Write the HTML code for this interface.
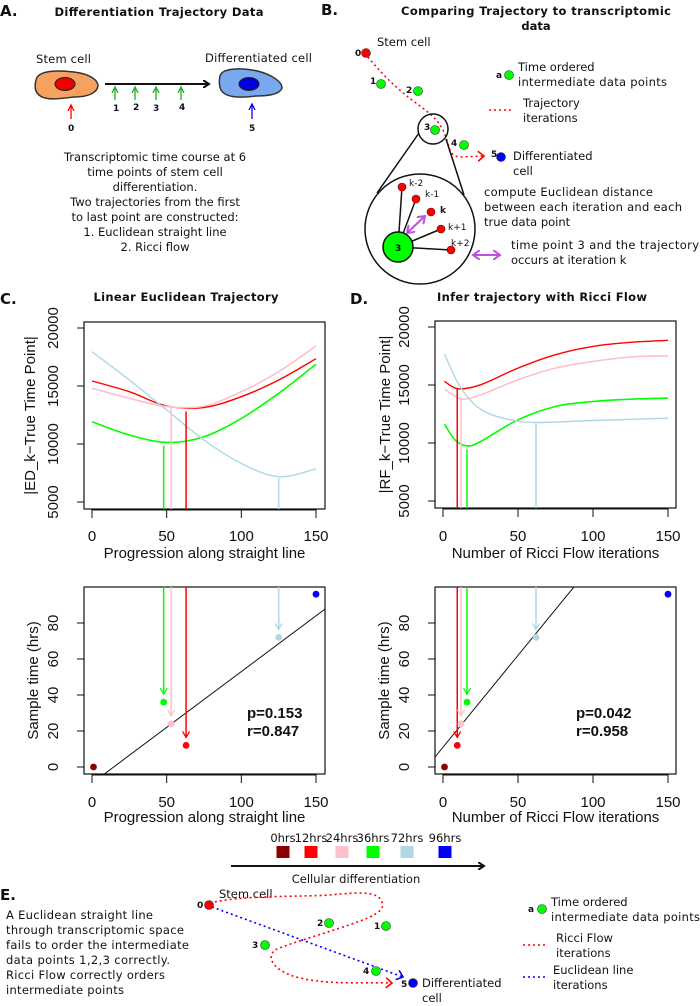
<!DOCTYPE html>
<html><head><meta charset="utf-8">
<style>
html,body{margin:0;padding:0;background:#fff;}
svg{display:block;}
.d{font-family:"DejaVu Sans","Liberation Sans",sans-serif;font-size:11.5px;fill:#111;}
.t{font-family:"DejaVu Sans","Liberation Sans",sans-serif;font-size:11.5px;font-weight:bold;fill:#111;}
.ax{font-family:"Liberation Sans",sans-serif;font-size:15px;fill:#111;}
.pn{font-family:"DejaVu Sans",sans-serif;font-size:15px;font-weight:bold;fill:#111;}
.lb{font-family:"DejaVu Sans",sans-serif;font-size:9px;font-weight:bold;fill:#111;}
</style></head>
<body>
<svg id="fig" width="700" height="1006" viewBox="0 0 700 1006" xmlns="http://www.w3.org/2000/svg">
<defs>
<marker id="ab" markerWidth="8" markerHeight="8" refX="6" refY="4" orient="auto" markerUnits="userSpaceOnUse"><path d="M0,0 L6,4 L0,8" fill="none" stroke="#111" stroke-width="2"/></marker>
<marker id="ag" markerWidth="8" markerHeight="8" refX="6" refY="4" orient="auto" markerUnits="userSpaceOnUse"><path d="M0,1 L6,4 L0,7" fill="none" stroke="#22aa22" stroke-width="1.3"/></marker>
<marker id="ar" markerWidth="8" markerHeight="8" refX="6" refY="4" orient="auto" markerUnits="userSpaceOnUse"><path d="M0,1 L6,4 L0,7" fill="none" stroke="#f00" stroke-width="1.3"/></marker>
<marker id="abl" markerWidth="8" markerHeight="8" refX="6" refY="4" orient="auto" markerUnits="userSpaceOnUse"><path d="M0,1 L6,4 L0,7" fill="none" stroke="#00f" stroke-width="1.3"/></marker>
<marker id="ar2" markerWidth="12" markerHeight="12" refX="7" refY="6" orient="auto" markerUnits="userSpaceOnUse"><path d="M1,1 L7,6 L1,11" fill="none" stroke="#f00" stroke-width="1.6"/></marker>
<marker id="ab2" markerWidth="12" markerHeight="12" refX="7" refY="6" orient="auto" markerUnits="userSpaceOnUse"><path d="M1,1 L7,6 L1,11" fill="none" stroke="#00f" stroke-width="1.6"/></marker>
<marker id="ap" markerWidth="10" markerHeight="10" refX="7" refY="5" orient="auto-start-reverse" markerUnits="userSpaceOnUse"><path d="M0,0 L7,5 L0,10" fill="none" stroke="#c050e0" stroke-width="2"/></marker>
</defs>

<!-- Panel A -->
<g>
<text class="pn" x="0" y="16">A.</text>
<text class="t" x="159" y="16" text-anchor="middle" textLength="209">Differentiation Trajectory Data</text>
<text class="d" x="36" y="63" textLength="55">Stem cell</text>
<text class="d" x="205" y="62" textLength="107">Differentiated cell</text>
<path d="M36,80 C38,70 58,70 74,72 C90,74 98,80 98,86 C97,93 88,97 74,97 C58,99 44,101 38,94 C34,90 35,84 36,80 Z" fill="#f6a160" stroke="#333" stroke-width="1.5"/>
<ellipse cx="65" cy="84" rx="10" ry="6.5" fill="#e00" stroke="#222"/>
<path d="M220,76 C222,68 240,68 252,70 C266,72 282,80 282,88 C280,94 270,96 256,96 C240,98 226,98 221,90 C219,86 219,80 220,76 Z" fill="#7aa8ee" stroke="#333" stroke-width="1.5"/>
<ellipse cx="249" cy="84" rx="10" ry="6.5" fill="#00d" stroke="#222"/>
<line x1="105" y1="84" x2="209" y2="84" stroke="#111" stroke-width="2" marker-end="url(#ab)"/>
<g stroke="#22aa22" stroke-width="1.3">
<line x1="115" y1="100" x2="115" y2="87" marker-end="url(#ag)"/>
<line x1="135" y1="100" x2="135" y2="87" marker-end="url(#ag)"/>
<line x1="156" y1="100" x2="156" y2="87" marker-end="url(#ag)"/>
<line x1="181" y1="100" x2="181" y2="87" marker-end="url(#ag)"/>
</g>
<line x1="71" y1="119" x2="71" y2="105" stroke="#f00" stroke-width="1.3" marker-end="url(#ar)"/>
<line x1="252" y1="119" x2="252" y2="104" stroke="#00f" stroke-width="1.3" marker-end="url(#abl)"/>
<g class="lb">
<text x="113" y="111">1</text><text x="133" y="110">2</text><text x="153" y="111">3</text><text x="179" y="110">4</text>
<text x="68" y="131">0</text><text x="249" y="131">5</text>
</g>
<g class="d" text-anchor="middle">
<text x="155" y="161">Transcriptomic time course at 6</text>
<text x="155" y="176">time points of stem cell</text>
<text x="155" y="191">differentiation.</text>
<text x="155" y="206">Two trajectories from the first</text>
<text x="155" y="221">to last point are constructed:</text>
<text x="155" y="236">1. Euclidean straight line</text>
<text x="155" y="251">2. Ricci flow</text>
</g>
</g>

<!-- Panel B -->
<g>
<text class="pn" x="321" y="15">B.</text>
<text class="t" x="536" y="15" text-anchor="middle" textLength="270">Comparing Trajectory to transcriptomic</text>
<text class="t" x="536" y="30" text-anchor="middle">data</text>
<text class="d" x="377" y="46">Stem cell</text>
<path d="M368,57 C380,72 395,87 412,100 C428,112 440,120 445,135 C450,146 448,156 460,157 L484,156" fill="none" stroke="#f00" stroke-width="1.5" stroke-dasharray="2,3" marker-end="url(#ar2)"/>
<circle cx="433" cy="129" r="15" fill="none" stroke="#111" stroke-width="1.5"/>
<circle cx="420" cy="229" r="55" fill="none" stroke="#111" stroke-width="1.5"/>
<line x1="419" y1="133" x2="377" y2="193" stroke="#111" stroke-width="1.5"/>
<line x1="446" y1="139" x2="464" y2="195" stroke="#111" stroke-width="1.5"/>
<g stroke="#111" stroke-width="1.5">
<line x1="398" y1="247" x2="402" y2="187"/><line x1="398" y1="247" x2="416" y2="199"/>
<line x1="398" y1="247" x2="441" y2="229"/><line x1="398" y1="247" x2="451" y2="250"/>
</g>
<circle cx="398" cy="247" r="15" fill="#0f0" stroke="#111" stroke-width="1.5"/>
<text class="lb" x="395" y="251">3</text>
<g fill="#f00" stroke="#600" stroke-width="0.6">
<circle cx="402" cy="187" r="4"/><circle cx="416" cy="199" r="4"/><circle cx="431" cy="212" r="4"/><circle cx="441" cy="229" r="4"/><circle cx="451" cy="250" r="4"/>
</g>
<g class="d" font-size="9">
<text x="409" y="186" font-size="9">k-2</text><text x="425" y="197" font-size="9">k-1</text><text x="440" y="213" font-size="9" font-weight="bold">k</text><text x="448" y="230" font-size="9">k+1</text><text x="451" y="246" font-size="9">k+2</text>
</g>
<line x1="407" y1="233" x2="425" y2="216" stroke="#c050e0" stroke-width="2" marker-start="url(#ap)" marker-end="url(#ap)"/>
<line x1="473" y1="255" x2="500" y2="255" stroke="#c050e0" stroke-width="2" marker-start="url(#ap)" marker-end="url(#ap)"/>
<g stroke="#333" stroke-width="0.6">
<circle cx="366" cy="53" r="4.5" fill="#f00"/><circle cx="381" cy="84" r="4.5" fill="#0f0"/><circle cx="418" cy="91" r="4.5" fill="#0f0"/>
<circle cx="435" cy="130" r="4.5" fill="#0f0"/><circle cx="464" cy="145" r="4.5" fill="#0f0"/><circle cx="501" cy="157" r="4.5" fill="#00f"/>
</g>
<g class="lb">
<text x="355" y="56">0</text><text x="370" y="84">1</text><text x="406" y="93">2</text><text x="424" y="130">3</text><text x="451" y="146">4</text><text x="491" y="157">5</text>
</g>
<text class="lb" x="496" y="78">a</text>
<circle cx="509" cy="75" r="4.5" fill="#0f0" stroke="#333" stroke-width="0.6"/>
<text class="d" x="518" y="71">Time ordered</text>
<text class="d" x="518" y="86" textLength="149">intermediate data points</text>
<line x1="489" y1="110" x2="512" y2="110" stroke="#f00" stroke-width="1.5" stroke-dasharray="2,3"/>
<text class="d" x="523" y="107">Trajectory</text>
<text class="d" x="523" y="122">iterations</text>
<text class="d" x="513" y="160">Differentiated</text>
<text class="d" x="513" y="175">cell</text>
<text class="d" x="484" y="196" textLength="169">compute Euclidean distance</text>
<text class="d" x="484" y="211" textLength="198">between each iteration and each</text>
<text class="d" x="484" y="226">true data point</text>
<text class="d" x="511" y="249" textLength="188">time point 3 and the trajectory</text>
<text class="d" x="511" y="264">occurs at iteration k</text>
</g>

<!-- Panel labels C, D -->
<text class="pn" x="0" y="304">C.</text>
<text class="t" x="186" y="301" text-anchor="middle" textLength="185">Linear Euclidean Trajectory</text>
<text class="pn" x="350" y="304">D.</text>
<text class="t" x="542" y="301" text-anchor="middle" textLength="210">Infer trajectory with Ricci Flow</text>

<g id="charts"></g>

<!-- Legend -->
<g id="legend"></g>
<line x1="231" y1="866" x2="484" y2="866" stroke="#111" stroke-width="2" marker-end="url(#ab)"/>
<text class="d" x="356" y="883" text-anchor="middle">Cellular differentiation</text>

<!-- Panel E -->
<g>
<text class="pn" x="0" y="900">E.</text>
<g class="d">
<text x="6" y="919" textLength="147">A Euclidean straight line</text>
<text x="6" y="934" textLength="178">through transcriptomic space</text>
<text x="6" y="949" textLength="183">fails to order the intermediate</text>
<text x="6" y="964" textLength="164">data points 1,2,3 correctly.</text>
<text x="6" y="979" textLength="159">Ricci Flow correctly orders</text>
<text x="6" y="994" textLength="118">intermediate points</text>
</g>
<text class="d" x="219" y="898">Stem cell</text>
<path d="M210,903 C240,895 300,897 330,895 C360,892 378,891 382,902 C386,912 370,918 340,928 C310,938 285,945 275,950 C265,958 275,972 300,978 C330,985 360,982 392,983" fill="none" stroke="#f00" stroke-width="1.6" stroke-dasharray="2,3" marker-end="url(#ar2)"/>
<line x1="212" y1="907" x2="403" y2="977" stroke="#00f" stroke-width="1.6" stroke-dasharray="2,3" marker-end="url(#ab2)"/>
<g stroke="#333" stroke-width="0.6">
<circle cx="209" cy="905" r="4.5" fill="#f00"/><circle cx="329" cy="923" r="4.5" fill="#0f0"/><circle cx="386" cy="926" r="4.5" fill="#0f0"/>
<circle cx="265" cy="945" r="4.5" fill="#0f0"/><circle cx="376" cy="971" r="4.5" fill="#0f0"/><circle cx="413" cy="983" r="4.5" fill="#00f"/>
</g>
<g class="lb">
<text x="197" y="908">0</text><text x="317" y="926">2</text><text x="374" y="929">1</text><text x="252" y="948">3</text><text x="363" y="974">4</text><text x="401" y="987">5</text>
</g>
<text class="d" x="422" y="987">Differentiated</text>
<text class="d" x="422" y="1002">cell</text>
<text class="lb" x="528" y="912">a</text>
<circle cx="542" cy="909" r="4.5" fill="#0f0" stroke="#333" stroke-width="0.6"/>
<text class="d" x="551" y="906">Time ordered</text>
<text class="d" x="551" y="921" textLength="149">intermediate data points</text>
<line x1="523" y1="945" x2="546" y2="945" stroke="#f00" stroke-width="1.5" stroke-dasharray="2,3"/>
<text class="d" x="556" y="942">Ricci Flow</text>
<text class="d" x="556" y="957">iterations</text>
<line x1="523" y1="977" x2="546" y2="977" stroke="#00f" stroke-width="1.5" stroke-dasharray="2,3"/>
<text class="d" x="553" y="974">Euclidean line</text>
<text class="d" x="553" y="989">iterations</text>
</g>
</svg>

<script>
// ===== Chart data =====
const timeLabels = ["0hrs","12hrs","24hrs","36hrs","72hrs","96hrs"];
const timeColors = ["#8b0000","#ff0000","#ffc0cb","#00ff00","#add8e6","#0000ff"];
const sampleTimes = [0,12,24,36,72,96];

// C top: distance curves along straight line
const cCurveX = [0,25,50,75,100,125,150];
const cRed   = [15430,14510,13276,13150,14080,15520,17350];
const cPink  = [14800,13940,13220,13270,14510,16230,18450];
const cGreen = [11925,10780,10140,10630,12210,14370,16870];
const cBlue  = [17960,15520,12930,10340,8330,7180,7850];
// minima markers: [red, pink, green, lightblue]
const cMinX = [63,53,48,125];
const cMinY = [12800,13200,9850,7050];

// D top: Ricci flow curves
const dRedX   = [1,10,25,50,75,100,125,150];
const dRed    = [15307,14674,15020,16460,17610,18330,18680,18850];
const dPinkX  = [1,12,25,50,75,100,125,150];
const dPink   = [14645,13810,14150,15450,16460,17035,17410,17520];
const dGreenX = [1,8,16,25,50,75,100,125,150];
const dGreen  = [11620,10270,9750,10125,12000,13150,13580,13780,13870];
const dBlueX  = [1,10,20,30,45,62,100,150];
const dBlue   = [17670,15160,13440,12570,12000,11770,11940,12140];
const dMinX = [9.5,12,16,62];
const dMinY = [14700,13800,9460,11700];

// Bottom scatter: progression positions per time point
const cPos = [1,63,53,48,125,150];
const dPos = [1,9.5,12,16,62,150];
const cFit = [0.62,-9];    // slope, intercept
const dFit = [1.02,11];
const cStats = ["p=0.153","r=0.847"];
const dStats = ["p=0.042","r=0.958"];

const xTicks = [0,50,100,150];
const yTicksTop = [5000,10000,15000,20000];
const yTicksBot = [0,20,40,60,80];

// ===== Drawing =====
const NS = "http://www.w3.org/2000/svg";
const root = document.getElementById("charts");
function el(tag, attrs, parent){
  const e = document.createElementNS(NS, tag);
  for (const k in attrs) e.setAttribute(k, attrs[k]);
  (parent||root).appendChild(e);
  return e;
}
function smoothPath(pts){
  let d = "M"+pts[0][0].toFixed(1)+","+pts[0][1].toFixed(1);
  for (let i=0;i<pts.length-1;i++){
    const p0 = pts[Math.max(0,i-1)], p1 = pts[i], p2 = pts[i+1], p3 = pts[Math.min(pts.length-1,i+2)];
    const c1 = [p1[0]+(p2[0]-p0[0])/6, p1[1]+(p2[1]-p0[1])/6];
    const c2 = [p2[0]-(p3[0]-p1[0])/6, p2[1]-(p3[1]-p1[1])/6];
    d += " C"+c1[0].toFixed(1)+","+c1[1].toFixed(1)+" "+c2[0].toFixed(1)+","+c2[1].toFixed(1)+" "+p2[0].toFixed(1)+","+p2[1].toFixed(1);
  }
  return d;
}
function axes(g, box, xs, ys, xT, yT, xTitle, yTitle, xLabY, xTitY, yLabX, yTitX){
  const f = el("rect",{x:box.l,y:box.t,width:box.r-box.l,height:box.b-box.t,fill:"none",stroke:"#111","stroke-width":1.2},g);
  
  
  const xa = el("line",{x1:xs(xT[0]),x2:xs(xT[xT.length-1]),y1:box.b+1,y2:box.b+1,stroke:"#111","stroke-width":1},g);
  
  
  xT.forEach(v=>{
    el("line",{x1:xs(v),x2:xs(v),y1:box.b,y2:box.b+9,stroke:"#111","stroke-width":1},g);
    const t = el("text",{x:xs(v),y:xLabY,"text-anchor":"middle",class:"ax"},g);
    t.textContent = v;
    
    
  });
  yT.forEach(v=>{
    el("line",{x1:box.l-7,x2:box.l,y1:ys(v),y2:ys(v),stroke:"#111","stroke-width":1},g);
    const t = el("text",{x:yLabX,y:ys(v),"text-anchor":"middle",class:"ax",transform:"rotate(-90 "+yLabX+" "+ys(v)+")"},g);
    t.textContent = v;
    
    
  });
  const ya = el("line",{x1:box.l,x2:box.l,y1:ys(yT[0]),y2:ys(yT[yT.length-1]),stroke:"#111","stroke-width":1},g);
  
  
  const xt = el("text",{x:(box.l+box.r)/2,y:xTitY,"text-anchor":"middle",class:"ax","font-size":"15.5"},g);
  xt.textContent = xTitle;
  
  
  const yc = (box.t+box.b)/2;
  const yt = el("text",{x:yTitX,y:yc,"text-anchor":"middle",class:"ax","font-size":"15.5",transform:"rotate(-90 "+yTitX+" "+yc+")"},g);
  yt.textContent = yTitle;
  
  
}
function topChart(name, box, x0, x150, y20k, y5k, seriesX, seriesY, minX, minY, xTitle, yTitle, yLabX, yTitX){
  const g = el("g",{});
  
  
  const xs = v => x0 + v*(x150-x0)/150;
  const ys = v => y5k - (v-5000)*(y5k-y20k)/15000;
  axes(g, box, xs, ys, xTicks, yTicksTop, xTitle, yTitle, 541, 558, yLabX, yTitX);
  const cols = [timeColors[1],timeColors[2],timeColors[3],timeColors[4]];
  const names = ["curve-12hrs","curve-24hrs","curve-36hrs","curve-72hrs"];
  for (let i=0;i<4;i++){
    const pts = seriesX[i].map((x,j)=>[xs(x),ys(seriesY[i][j])]);
    const p = el("path",{d:smoothPath(pts),fill:"none",stroke:cols[i],"stroke-width":i==0||i==3?1.4:1.6},g);
    
    
  }
  for (let i=0;i<4;i++){
    const l = el("line",{x1:xs(minX[i]),x2:xs(minX[i]),y1:box.b,y2:ys(minY[i]),stroke:cols[i],"stroke-width":1.5},g);
    
    
  }
}
function botChart(name, box, x0, x150, pos, fit, stats, statX, xTitle){
  const g = el("g",{});
  
  
  const xs = v => x0 + v*(x150-x0)/150;
  const ys = v => 767 - v*(767-623)/80;
  axes(g, box, xs, ys, xTicks, yTicksBot, xTitle, "Sample time (hrs)", 807, 822, box.l-26, box.l-46);
  const cp = el("clipPath",{id:name+"-clip"},g);
  el("rect",{x:box.l,y:box.t,width:box.r-box.l,height:box.b-box.t},cp);
  const xa = -20, xb = 170;
  const rl = el("line",{x1:xs(xa),y1:ys(fit[0]*xa+fit[1]),x2:xs(xb),y2:ys(fit[0]*xb+fit[1]),stroke:"#111","stroke-width":1,"clip-path":"url(#"+name+"-clip)"},g);
  
  
  for (let i=1;i<5;i++){
    const c = timeColors[i], x = xs(pos[i]), yEnd = ys(sampleTimes[i])-8;
    const a = el("line",{x1:x,x2:x,y1:box.t,y2:yEnd,stroke:c,"stroke-width":1.5},g);
    
    
    el("path",{d:"M"+(x-3.5)+","+(yEnd-6)+" L"+x+","+yEnd+" L"+(x+3.5)+","+(yEnd-6),fill:"none",stroke:c,"stroke-width":1.3},g);
  }
  for (let i=0;i<6;i++){
    const p = el("circle",{cx:xs(pos[i]),cy:ys(sampleTimes[i]),r:3.4,fill:timeColors[i]},g);
    
    
  }
  stats.forEach((s,i)=>{
    const t = el("text",{x:statX,y:box.t+131+i*18,class:"ax","font-weight":"bold","font-size":"14"},g);
    t.textContent = s;
    
    
  });
}
topChart("chart-c-distance", {l:84,r:325,t:322,b:509}, 92, 316, 328, 502,
  [cCurveX,cCurveX,cCurveX,cCurveX],[cRed,cPink,cGreen,cBlue], cMinX, cMinY,
  "Progression along straight line","|ED_k\u2212True Time Point|", 58, 35);
topChart("chart-d-distance", {l:435,r:676,t:321,b:508}, 443, 668, 327, 501,
  [dRedX,dPinkX,dGreenX,dBlueX],[dRed,dPink,dGreen,dBlue], dMinX, dMinY,
  "Number of Ricci Flow iterations","|RF_k\u2212True Time Point|", 409, 390);
botChart("chart-c-scatter", {l:84,r:325,t:587,b:774}, 92, 316, cPos, cFit, cStats, 247, "Progression along straight line");
botChart("chart-d-scatter", {l:435,r:676,t:587,b:774}, 443, 668, dPos, dFit, dStats, 576, "Number of Ricci Flow iterations");

// legend
const lg = document.getElementById("legend");
const legX = [283,311,342,373,407,445];
timeLabels.forEach((lab,i)=>{
  const t = el("text",{x:legX[i],y:842,"text-anchor":"middle",class:"d","font-size":"10.5"},lg);
  t.textContent = lab;
  
  
  const r = el("rect",{x:legX[i]-6.5,y:846,width:13,height:12,fill:timeColors[i]},lg);
  
  
});
</script>
</body></html>
